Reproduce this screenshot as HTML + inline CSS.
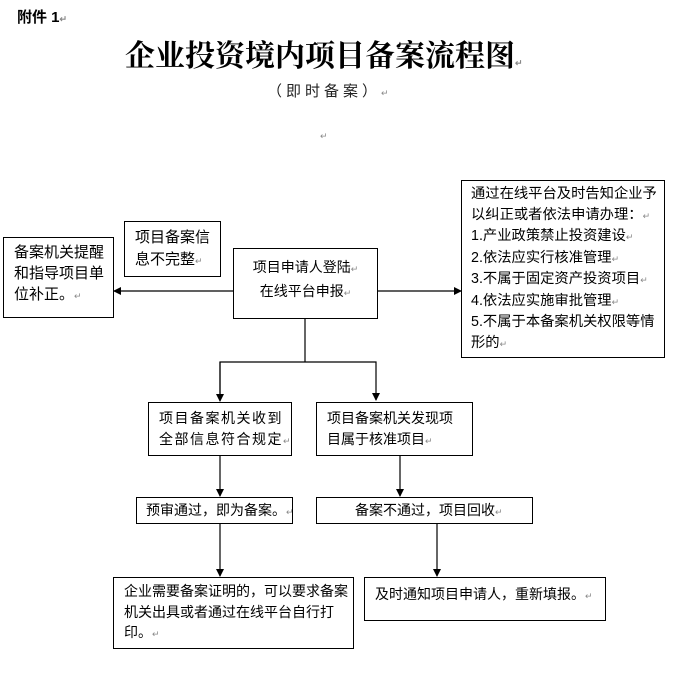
<!DOCTYPE html>
<html><head><meta charset="utf-8"><style>
body{margin:0;width:675px;height:677px;background:#fff;position:relative;overflow:hidden;font-family:"Liberation Sans","Noto Sans CJK SC","WenQuanYi Zen Hei",sans-serif;color:#000}
.b{position:absolute;border:1px solid #000;box-sizing:border-box;font-size:14px;line-height:20.5px;background:#fff;white-space:nowrap}
.t{position:absolute;white-space:nowrap}
i{font-style:normal;color:#888;font-size:9px}
</style></head><body>
<div class="t" style="left:17px;top:6px;font-size:15px;font-weight:bold">附件 1<i>↵</i></div>
<div class="t" style="left:125px;top:31px;font-size:30px;font-weight:bold;font-family:'Noto Serif CJK SC',serif;letter-spacing:0px">企业投资境内项目备案流程图<i>↵</i></div>
<div class="t" style="left:267px;top:80px;font-size:15px;letter-spacing:4px;color:#222">（即时备案）<i>↵</i></div>
<div class="t" style="left:320px;top:126px"><i>↵</i></div>
<svg width="675" height="677" style="position:absolute;left:0;top:0">
<defs><marker id="a" markerWidth="8" markerHeight="8" refX="7" refY="4" orient="auto" markerUnits="userSpaceOnUse"><path d="M0,0 L8,4 L0,8z"/></marker></defs>
<g stroke="#000" stroke-width="1.2" fill="none">
<line x1="233" y1="291" x2="114" y2="291" marker-end="url(#a)"/>
<line x1="377" y1="291" x2="461" y2="291" marker-end="url(#a)"/>
<polyline points="305,318 305,362"/>
<polyline points="220,400 220,362 376,362 376,400" marker-end="url(#a)"/>
<line x1="220" y1="362" x2="220" y2="401" marker-end="url(#a)"/>
<line x1="220" y1="455" x2="220" y2="496" marker-end="url(#a)"/>
<line x1="220" y1="523" x2="220" y2="576" marker-end="url(#a)"/>
<line x1="400" y1="456" x2="400" y2="496" marker-end="url(#a)"/>
<line x1="437" y1="523" x2="437" y2="576" marker-end="url(#a)"/>
</g></svg>
<div class="b" style="left:3px;top:237px;width:111px;height:81px;padding:4px 0 0 10px;font-size:15px;line-height:21px">备案机关提醒<br>和指导项目单<br>位补正。<i>↵</i></div>
<div class="b" style="left:124px;top:221px;width:97px;height:56px;padding:5px 0 0 10px;font-size:15px;line-height:22px">项目备案信<br>息不完整<i>↵</i></div>
<div class="b" style="left:233px;top:248px;width:145px;height:71px;padding:7px 0 0 0;text-align:center;line-height:22px">项目申请人登陆<i>↵</i><br>在线平台申报<i>↵</i></div>
<div class="b" style="left:461px;top:180px;width:204px;height:178px;padding:3px 0 0 9px;font-size:14.3px">通过在线平台及时告知企业予<br>以纠正或者依法申请办理：<i>↵</i><br>1.产业政策禁止投资建设<i>↵</i><br>2.依法应实行核准管理<i>↵</i><br>3.不属于固定资产投资项目<i>↵</i><br>4.依法应实施审批管理<i>↵</i><br>5.不属于本备案机关权限等情<br>形的<i>↵</i></div>
<div class="b" style="left:148px;top:402px;width:144px;height:54px;padding:5px 0 0 10px;letter-spacing:1.5px">项目备案机关收到<br>全部信息符合规定<i>↵</i></div>
<div class="b" style="left:316px;top:402px;width:157px;height:54px;padding:5px 0 0 10px">项目备案机关发现项<br>目属于核准项目<i>↵</i></div>
<div class="b" style="left:136px;top:497px;width:157px;height:27px;padding:2px 0 0 9px">预审通过，即为备案。<i>↵</i></div>
<div class="b" style="left:316px;top:497px;width:217px;height:27px;padding:2px 0 0 38px">备案不通过，项目回收<i>↵</i></div>
<div class="b" style="left:113px;top:577px;width:241px;height:72px;padding:3px 0 0 10px">企业需要备案证明的，可以要求备案<br>机关出具或者通过在线平台自行打<br>印。<i>↵</i></div>
<div class="b" style="left:364px;top:577px;width:242px;height:44px;padding:6px 0 0 10px">及时通知项目申请人，重新填报。<i>↵</i></div>
</body></html>
